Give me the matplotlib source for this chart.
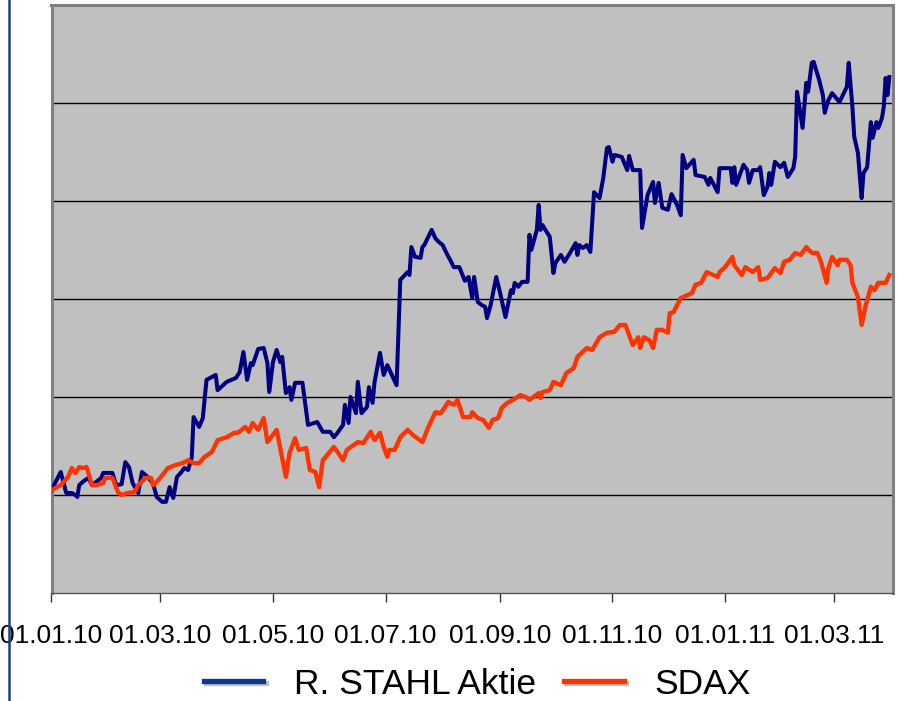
import numpy as np
import matplotlib
matplotlib.use("Agg")
import matplotlib.pyplot as plt
import matplotlib.dates as mdates
import matplotlib.patheffects as pe
from matplotlib.lines import Line2D

start = np.datetime64('2010-01-01')

# days since 01.01.2010 and index level
stahl_days = [0, 5, 8, 11, 13, 14, 15, 17, 20, 22, 27,
              28, 33, 35, 38, 40, 42, 44, 47, 49, 52, 55,
              57, 60, 62, 64, 66, 68, 70, 72, 74, 76,
              77, 80, 82, 84, 89, 90, 95, 100, 102, 104,
              106, 108, 109, 112, 115, 117, 118, 120, 122, 124,
              125, 127, 129, 130, 132, 136, 139, 144, 147, 151,
              153, 155, 158, 159, 161, 162, 165, 166, 168, 171,
              172, 174, 175, 178, 180, 182, 187, 189, 193, 194,
              195, 197, 200, 201, 202, 206, 208, 210, 212, 214,
              216, 218, 221, 224, 226, 228, 229, 231, 233, 235,
              236, 238, 241, 243, 246, 249, 250, 251, 253, 255,
              258, 259, 260, 263, 264, 265, 266, 270, 272, 273,
              276, 278, 281, 284, 285, 286, 288, 290, 292, 294,
              297, 299, 301, 302, 304, 305, 309, 312, 313, 315,
              319, 320, 323, 326, 327, 329, 331, 334, 336, 339,
              341, 342, 344, 348, 349, 354, 356, 357, 361, 362,
              368, 369, 370, 371, 375, 377, 378, 380, 383, 384,
              386, 388, 389, 390, 392, 395, 397, 399, 402, 403,
              404, 407, 409, 410, 412, 413, 416, 418, 419, 421,
              423, 427, 431, 432, 434, 435, 437, 439, 440, 442,
              444, 445, 447, 448, 450, 451, 452, 453, 454]
stahl_vals = [101.0, 104.7, 100.4, 100.4, 100.0, 99.6, 102.0, 102.7, 103.5, 102.0, 103.5,
              104.5, 104.5, 102.0, 102.2, 106.7, 105.7, 102.4, 100.4, 104.7, 103.7, 102.4,
              99.6, 98.6, 98.6, 101.6, 99.4, 103.7, 104.5, 105.5, 105.1, 107.6,
              115.9, 113.9, 115.7, 123.5, 124.5, 121.4, 123.1, 123.9, 125.1, 129.2,
              123.5, 126.9, 126.5, 129.8, 130.0, 126.9, 121.0, 127.1, 129.6, 127.1,
              128.2, 120.8, 122.0, 119.4, 122.9, 122.9, 114.3, 114.9, 112.9, 112.9,
              111.8, 112.7, 114.3, 118.4, 114.7, 120.0, 116.7, 123.1, 116.7, 118.0,
              122.0, 118.8, 122.9, 129.0, 124.5, 126.5, 122.4, 143.9, 145.5, 144.9,
              150.6, 148.6, 148.4, 150.6, 151.0, 154.1, 152.4, 151.6, 151.0, 149.4,
              148.0, 146.5, 146.5, 143.7, 144.5, 140.2, 144.5, 139.4, 138.8, 138.4,
              136.1, 138.8, 144.5, 141.4, 136.3, 141.8, 141.2, 143.3, 142.5, 143.5,
              143.5, 153.1, 150.0, 154.1, 159.2, 154.1, 155.1, 152.7, 145.3, 147.3,
              149.0, 147.6, 149.4, 151.4, 149.0, 151.0, 150.4, 151.0, 149.6, 161.8,
              160.6, 164.7, 170.8, 171.0, 168.0, 169.4, 169.0, 166.3, 169.2, 166.3,
              166.3, 154.5, 161.2, 163.9, 159.6, 163.7, 158.6, 158.2, 161.4, 159.2,
              157.1, 169.4, 166.7, 168.4, 165.3, 164.9, 163.3, 164.7, 161.8, 166.7,
              166.7, 163.7, 166.9, 163.3, 167.4, 166.3, 163.7, 166.3, 166.3, 166.9,
              161.2, 162.9, 165.7, 163.3, 168.0, 166.9, 167.8, 164.9, 166.7, 169.0,
              182.3, 174.9, 184.1, 182.3, 188.2, 188.4, 184.7, 181.6, 178.0, 180.6,
              182.0, 180.2, 183.3, 188.2, 179.2, 173.1, 169.8, 160.6, 165.7, 166.9,
              176.1, 172.9, 176.1, 174.9, 176.9, 179.2, 185.1, 181.6, 185.3]

sdax_days = [0, 5, 9, 11, 13, 15, 17, 19, 22, 24,
             28, 29, 33, 36, 38, 41, 45, 47, 51, 54,
             55, 58, 61, 63, 67, 71, 74, 77, 80, 83,
             87, 90, 95, 99, 101, 105, 107, 109, 112, 115,
             117, 122, 127, 129, 132, 134, 138, 140, 143, 145,
             147, 153, 155, 158, 160, 166, 169, 173, 175, 178,
             180, 182, 183, 186, 189, 193, 196, 201, 204, 208,
             211, 215, 218, 220, 223, 227, 228, 231, 234, 237,
             239, 242, 244, 247, 250, 254, 257, 259, 264, 265,
             266, 270, 272, 276, 279, 283, 285, 290, 293, 297,
             301, 305, 308, 311, 315, 318, 319, 321, 324, 326,
             328, 331, 334, 335, 337, 341, 347, 349, 352, 355,
             361, 362, 365, 369, 370, 374, 376, 380, 383, 384,
             388, 392, 395, 397, 400, 403, 406, 409, 412, 415,
             417, 420, 421, 423, 426, 427, 431, 433, 434, 437,
             439, 441, 444, 446, 448, 452, 454]
sdax_vals = [101.0, 102.0, 103.7, 105.5, 104.5, 105.7, 105.5, 105.7, 102.0, 102.0,
             102.4, 103.5, 103.5, 100.6, 100.0, 100.4, 100.6, 102.0, 103.5, 103.5,
             102.0, 103.1, 104.5, 105.5, 106.1, 106.5, 107.1, 106.5, 106.5, 107.8,
             108.8, 111.2, 111.8, 112.7, 112.7, 113.9, 112.9, 114.7, 113.3, 115.7,
             110.8, 113.3, 103.7, 108.6, 111.6, 109.2, 109.6, 105.1, 104.7, 101.6,
             107.1, 109.8, 108.8, 107.1, 109.2, 110.8, 110.6, 112.9, 111.2, 112.7,
             109.8, 107.8, 109.2, 109.2, 111.8, 113.3, 112.2, 110.8, 113.7, 116.9,
             116.7, 119.0, 118.4, 119.4, 115.9, 115.9, 116.9, 115.7, 115.3, 113.7,
             115.3, 115.7, 117.8, 118.8, 119.4, 120.4, 120.0, 119.4, 120.8, 119.8,
             121.0, 121.4, 123.1, 122.4, 124.9, 125.9, 128.2, 130.0, 129.6, 132.2,
             133.1, 133.3, 134.7, 134.7, 130.6, 132.2, 130.0, 132.2, 131.6, 130.0,
             133.7, 133.7, 133.1, 137.1, 137.3, 140.2, 141.2, 142.9, 143.3, 145.5,
             144.5, 145.5, 146.5, 148.6, 146.9, 144.9, 146.5, 145.5, 146.5, 143.9,
             144.3, 146.3, 145.3, 147.6, 148.0, 149.4, 149.0, 150.6, 149.4, 149.4,
             147.6, 143.3, 146.3, 148.6, 146.9, 148.0, 148.0, 146.9, 143.3, 140.4,
             134.7, 138.4, 142.5, 141.8, 143.3, 143.3, 144.9]

tick_dates = ['2010-01-01', '2010-03-01', '2010-05-01', '2010-07-01',
              '2010-09-01', '2010-11-01', '2011-01-01', '2011-03-01']
series_labels = ['R. STAHL Aktie', 'SDAX']

stahl_x = start + np.array(stahl_days)
sdax_x = start + np.array(sdax_days)

fig = plt.figure(figsize=(8.99, 7.01), dpi=100)
ax = fig.add_axes([51.5/899, 108/701, 841.5/899, 588/701])
ax.set_facecolor('#C0C0C0')

ax.plot(stahl_x, stahl_vals, color='#000080', lw=2.9, zorder=3)
ax.plot(sdax_x, sdax_vals, color='#FF3300', lw=3.1, zorder=3)

ax.set_xlim(start, start + 456)
ax.set_ylim(80, 200)
ax.set_yticks(np.arange(100, 200, 20))
ax.yaxis.grid(True, color='black', lw=1)
ax.set_axisbelow(True)
ax.tick_params(axis='y', left=False, labelleft=False)

ax.set_xticks(np.array(tick_dates, dtype='datetime64[D]'))
ax.xaxis.set_major_formatter(mdates.DateFormatter('%d.%m.%y'))
ax.tick_params(axis='x', direction='out', length=6.5, width=1, color='#333333',
               labelsize=19, pad=16, labelcolor='black')
for lab in ax.get_xticklabels():
    lab.set_family('Liberation Sans')

for side in ['left', 'top', 'right']:
    ax.spines[side].set_color('#808080')
    ax.spines[side].set_linewidth(2.2)
ax.spines['bottom'].set_color('#555555')
ax.spines['bottom'].set_linewidth(1)

fig.add_artist(Line2D([9/899, 9/899], [0, 1], color='#1F3F80', lw=1.8))

shadow = [pe.SimpleLineShadow(offset=(1.5, -1.5), alpha=0.25), pe.Normal()]
handles = [Line2D([], [], color='#0A3A8F', lw=3.8, path_effects=shadow),
           Line2D([], [], color='#FF3300', lw=3.8, path_effects=shadow)]
fig.legend(handles, series_labels, loc='center', bbox_to_anchor=(477/899, 17/701),
           ncol=2, frameon=False,
           prop={'family': 'Liberation Sans', 'size': 25.5},
           handlelength=1.69, handletextpad=0.85, columnspacing=0.8,
           borderpad=0, borderaxespad=0)

fig.savefig('out.png', dpi=100)
